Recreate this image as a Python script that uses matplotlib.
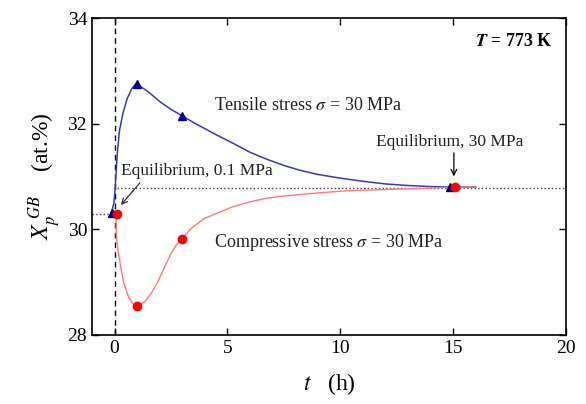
import numpy as np
import matplotlib
matplotlib.use("Agg")
import matplotlib.pyplot as plt

plt.rcParams['font.family'] = ['Liberation Serif', 'DejaVu Serif']
plt.rcParams['mathtext.fontset'] = 'stix'

# curves (t in h, X in at.%)
t_tens = [-0.15, -0.03, 0.03, 0.12, 0.22, 0.37, 0.56, 0.77, 0.96, 1.2, 1.48, 2.0, 2.51, 2.96,
          3.55, 3.99, 4.51, 5.25, 6.0, 6.73, 7.5, 8.2, 9.0, 10.0, 11.0, 12.0, 13.0, 14.0, 15.0, 16.0]
x_tens = [30.31, 30.49, 30.81, 31.44, 31.88, 32.20, 32.48, 32.67, 32.76, 32.69, 32.61, 32.42, 32.27, 32.16,
          32.01, 31.91, 31.79, 31.63, 31.46, 31.33, 31.21, 31.12, 31.04, 30.97, 30.91, 30.86, 30.83, 30.81,
          30.80, 30.80]
t_comp = [0.07, 0.07, 0.15, 0.27, 0.41, 0.62, 0.8, 0.96, 1.13, 1.33, 1.63, 1.92, 2.22, 2.51, 2.73, 2.96,
          3.4, 3.99, 4.51, 5.25, 6.0, 6.73, 7.5, 8.2, 9.0, 10.27, 11.75, 13.0, 14.0, 15.08, 16.0]
x_comp = [30.30, 29.92, 29.61, 29.29, 28.98, 28.72, 28.60, 28.55, 28.57, 28.63, 28.79, 29.01, 29.29, 29.55,
          29.70, 29.81, 30.02, 30.21, 30.30, 30.43, 30.52, 30.59, 30.63, 30.66, 30.69, 30.73, 30.75, 30.77,
          30.78, 30.80, 30.80]

# marked points
t_tens_pts = [-0.12, 1.0, 3.0, 14.85]
x_tens_pts = [30.31, 32.76, 32.15, 30.81]
t_comp_pts = [0.1, 1.0, 3.0, 15.1]
x_comp_pts = [30.30, 28.55, 29.81, 30.80]

x_eq_01 = 30.30
x_eq_30 = 30.79

fig, ax = plt.subplots(figsize=(5.86, 4.04), dpi=100)
fig.subplots_adjust(left=0.157, right=0.966, top=0.955, bottom=0.171)

ax.axvline(0, color='black', ls=(0, (4, 3)), lw=1)
ax.plot([0.1, 20], [x_eq_30, x_eq_30], color='#444444', ls=':', lw=1)
ax.plot([-1, 0], [x_eq_01, x_eq_01], color='#444444', ls=':', lw=1)

ax.plot(t_tens, x_tens, color='#3a3ab8', lw=1.1)
ax.plot(t_comp, x_comp, color='#ff7a7a', lw=1.0)
ax.plot(t_tens_pts, x_tens_pts, '^', color='#000090', ms=6, ls='none')
ax.plot(t_comp_pts, x_comp_pts, 'o', color='#ff0000', ms=6, ls='none')

ax.text(4.4, 32.35, r'Tensile stress $\sigma$ = 30 MPa', fontsize=13, va='center', color='#222222')
ax.text(4.4, 29.76, r'Compressive stress $\sigma$ = 30 MPa', fontsize=13, va='center', color='#222222')
ax.text(11.6, 31.66, 'Equilibrium, 30 MPa', fontsize=12.5, va='center', color='#222222')
ax.text(0.3, 31.1, 'Equilibrium, 0.1 MPa', fontsize=12.5, va='center', color='#222222')
ax.annotate('', xy=(15.03, 30.95), xytext=(15.03, 31.5),
            arrowprops=dict(arrowstyle='->', color='black', lw=0.9))
ax.annotate('', xy=(0.2, 30.42), xytext=(1.2, 30.92),
            arrowprops=dict(arrowstyle='->', color='#333333', lw=0.9))
ax.text(19.4, 33.55, r'$\mathbfit{T}$ = 773 K', fontsize=13, fontweight='bold', ha='right', va='center')

ax.set_xlim(-1, 20)
ax.set_ylim(28, 34)
ax.set_xticks([0, 5, 10, 15, 20])
ax.set_yticks([28, 30, 32, 34])
ax.tick_params(direction='in', top=True, right=True, labelsize=14, length=5, width=1)
for s in ax.spines.values():
    s.set_linewidth(1.2)

ax.set_xlabel(r'$t$   (h)', fontsize=17, labelpad=10)
ax.set_ylabel(r'$X_p^{\ GB}$    (at.%)', fontsize=17, labelpad=3)

fig.savefig('out.png', dpi=100)
